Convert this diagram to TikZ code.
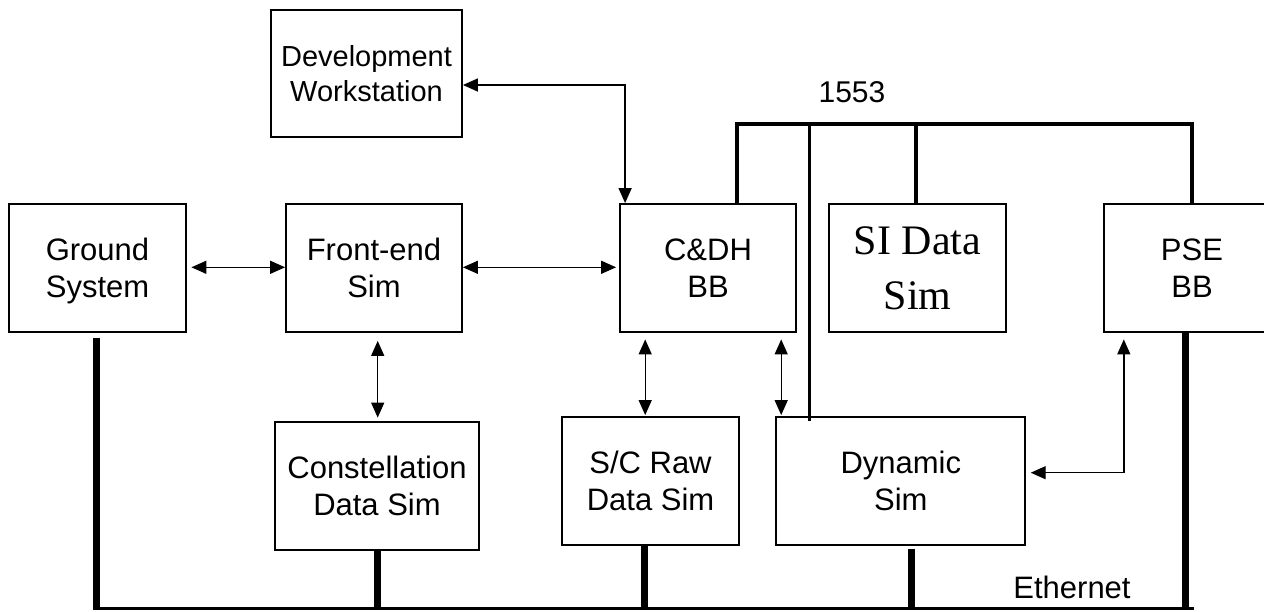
\documentclass[tikz,border=0pt]{standalone}
\usepackage{fontspec}
\setmainfont{Liberation Sans}
\newfontfamily\romanface{Liberation Serif}
\usetikzlibrary{arrows.meta,calc}

\begin{document}
\begin{tikzpicture}[x=1pt,y=-1pt,
  blk/.style={draw,line width=1.8pt,inner sep=0pt,align=center,text depth=0pt,
              font=\fontsize{31}{37}\selectfont},
  link/.style={line width=1.4pt,
               {Triangle[length=15pt,width=13pt]}-{Triangle[length=15pt,width=13pt]}},
  milbus/.style={line width=3.5pt},
  ethdrop/.style={line width=7pt},
  ethline/.style={line width=3.5pt},
  lbl/.style={anchor=base,inner sep=0pt,font=\fontsize{31}{37}\selectfont}]

\clip (0,0) rectangle (1264,611);
\useasboundingbox (0,0) rectangle (1264,611);

% equipment blocks
\node[blk,minimum width=191pt,minimum height=127pt,
      font=\fontsize{29}{35}\selectfont] (dev) at (366.5,73.5) {Development\\Workstation};
\node[blk,minimum width=177pt,minimum height=128pt] (ground) at (97.5,268) {Ground\\System};
\node[blk,minimum width=176pt,minimum height=128pt] (front) at (374,268)   {Front-end\\Sim};
\node[blk,minimum width=176pt,minimum height=128pt] (cdh)   at (708,268)   {C\&DH\\BB};
\node[blk,minimum width=177pt,minimum height=128pt,text depth=-4pt,
      font=\romanface\fontsize{42}{55}\selectfont] (si) at (917.5,268) {SI Data\\Sim};
\node[blk,minimum width=176pt,minimum height=128pt] (pse)   at (1192,268)  {PSE\\BB};
\node[blk,minimum width=204pt,minimum height=128pt] (const) at (377,486)   {Constellation\\Data Sim};
\node[blk,minimum width=177pt,minimum height=128pt] (sc)    at (650.5,481) {S/C Raw\\Data Sim};
\node[blk,minimum width=249pt,minimum height=128pt] (dyn)   at (900.8,481) {Dynamic\\Sim};

% point-to-point data links
\draw[link] ($(ground.east)+(4.5,-0.7)$) -- ($(front.west)+(0,-0.7)$);
\draw[link] ($(front.east)+(0,-0.7)$) -- ($(cdh.west)+(-3,-0.7)$);
\draw[link] ($(dev.east)+(0,11.5)$) -| ($(cdh.north west)+(6,0)$);
\draw[link] ($(front.south)+(3.7,8)$) -- ($(const.north)+(0.7,-3.5)$);
\draw[link] ($(sc.north |- cdh.south)+(-5.3,6.5)$) -- ($(sc.north)+(-5.3,-1)$);
\draw[link] ($(dyn.north west |- cdh.south)+(5.8,6.5)$) -- ($(dyn.north west)+(5.8,-1)$);
\draw[link] ($(pse.south west)+(20.7,6.5)$) |- ($(dyn.east)+(4.5,-8.3)$);

% 1553 bus
\coordinate (m1) at (737,124);
\coordinate (m2) at (809.5,124);
\coordinate (m3) at (916,124);
\coordinate (m4) at (1192,124);
\draw[milbus] ($(m1)+(-1.75,0)$) -- ($(m4)+(1.75,0)$);
\draw[milbus] (m1) -- (m1 |- cdh.north);
\draw[milbus] (m2) -- ($(m2 |- dyn.north)+(0,5)$);
\draw[milbus] (m3) -- (m3 |- si.north);
\draw[milbus] (m4) -- (m4 |- pse.north);
\node[lbl,font=\fontsize{30}{36}\selectfont] (buslbl) at (852,102) {1553};

% Ethernet
\coordinate (e0) at (96.7,608.5);
\coordinate (e1) at (1190,608.5);
\draw[ethline] ($(e0)+(-3.5,0)$) -- ($(e1)+(3.5,0)$);
\draw[ethdrop] ($(ground.south)+(-0.8,5)$) -- ($(ground.south |- e0)+(-0.8,0)$);
\draw[ethdrop] ($(const.south)+(0.7,0)$) -- ($(const.south |- e0)+(0.7,0)$);
\draw[ethdrop] ($(sc.south)+(-5.8,0)$) -- ($(sc.south |- e0)+(-5.8,0)$);
\draw[ethdrop] ($(dyn.south)+(10.2,3)$) -- ($(dyn.south |- e0)+(10.2,0)$);
\draw[ethdrop] ($(pse.south)+(-7,0)$) -- ($(pse.south |- e0)+(-7,0)$);
\node[lbl] (ethlbl) at (1072,598) {Ethernet};
\end{tikzpicture}
\end{document}
